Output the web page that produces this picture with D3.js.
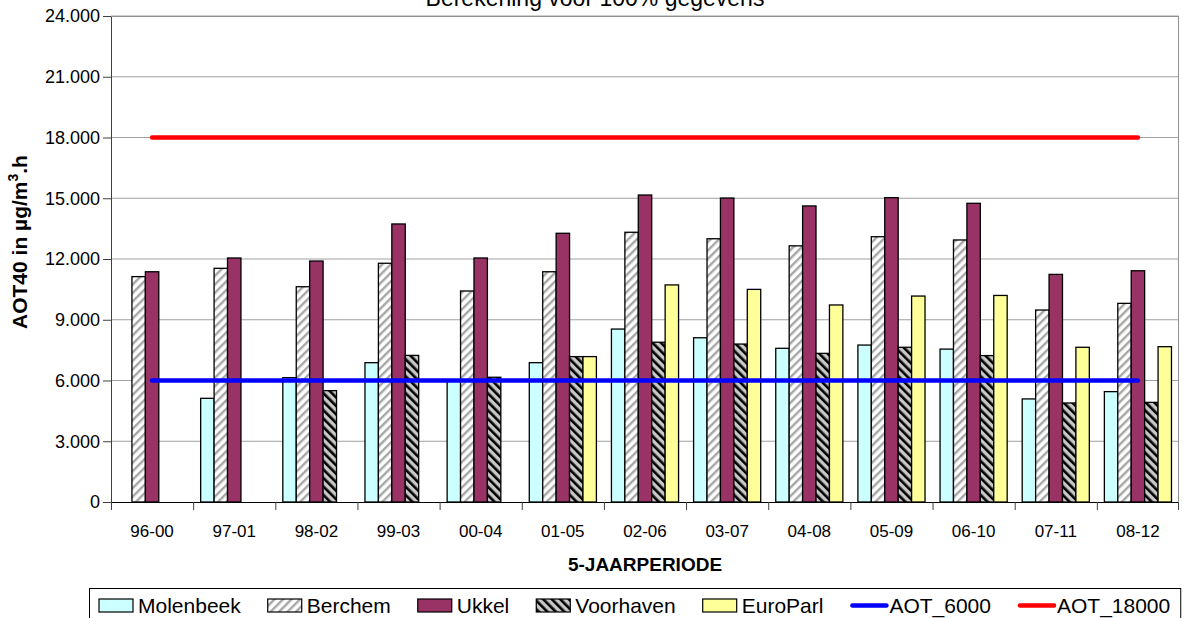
<!DOCTYPE html>
<html>
<head>
<meta charset="utf-8">
<script src="https://cdn.jsdelivr.net/npm/d3@7"></script>
<style>
  body { margin: 0; background: #fff; }
  svg { display: block; font-family: "Liberation Sans", Arial, sans-serif; }
</style>
</head>
<body>
<svg id="chart" width="1184" height="618"></svg>
<script>
// periods on the x axis
var periods = ["96-00", "97-01", "98-02", "99-03", "00-04", "01-05", "02-06", "03-07", "04-08", "05-09", "06-10", "07-11", "08-12"];

// AOT40 per station (null = no data)
var molenbeek = [null, 5120, 6140, 6880, 6000, 6880, 8540, 8110, 7590, 7750, 7550, 5090, 5450];
var berchem   = [11130, 11540, 10630, 11790, 10420, 11370, 13320, 13000, 12650, 13100, 12940, 9480, 9810];
var ukkel     = [11370, 12050, 11900, 13730, 12050, 13270, 15160, 15010, 14620, 15030, 14750, 11240, 11420];
var voorhaven = [null, null, 5500, 7240, 6160, 7180, 7890, 7800, 7340, 7640, 7230, 4890, 4920];
var europarl  = [null, null, null, null, null, 7180, 10720, 10500, 9730, 10170, 10200, 7640, 7670];

// target values
var aot6000  = [6000, 6000, 6000, 6000, 6000, 6000, 6000, 6000, 6000, 6000, 6000, 6000, 6000];
var aot18000 = [18000, 18000, 18000, 18000, 18000, 18000, 18000, 18000, 18000, 18000, 18000, 18000, 18000];

var yTicks = [0, 3000, 6000, 9000, 12000, 15000, 18000, 21000, 24000];

var barSeries = [
    {name: "Molenbeek", values: molenbeek, fill: "#ccffff"},
    {name: "Berchem",   values: berchem,   fill: "url(#hatchBerchem)"},
    {name: "Ukkel",     values: ukkel,     fill: "#993366"},
    {name: "Voorhaven", values: voorhaven, fill: "url(#hatchVoorhaven)"},
    {name: "EuroParl",  values: europarl,  fill: "#ffff99"}
];
var lineSeries = [
    {name: "AOT_6000",  values: aot6000,  color: "#0000ff"},
    {name: "AOT_18000", values: aot18000, color: "#ff0000"}
];

var margin = {top: 16, right: 5, bottom: 116, left: 111},
    width = 1184 - margin.left - margin.right,
    height = 618 - margin.top - margin.bottom;

var svg = d3.select("#chart");

// hatch patterns
var defs = svg.append("defs");
var pb = defs.append("pattern")
    .attr("id", "hatchBerchem")
    .attr("patternUnits", "userSpaceOnUse")
    .attr("width", 6).attr("height", 6)
    .attr("patternTransform", "rotate(45)");
pb.append("rect").attr("width", 6).attr("height", 6).attr("fill", "#fff");
pb.append("rect").attr("width", 2.4).attr("height", 6).attr("fill", "#a6a6a6");

var pv = defs.append("pattern")
    .attr("id", "hatchVoorhaven")
    .attr("patternUnits", "userSpaceOnUse")
    .attr("width", 6).attr("height", 6)
    .attr("patternTransform", "rotate(-45)");
pv.append("rect").attr("width", 6).attr("height", 6).attr("fill", "#c8c8c8");
pv.append("rect").attr("width", 2.6).attr("height", 6).attr("fill", "#000");

var g = svg.append("g")
    .attr("transform", "translate(" + margin.left + "," + margin.top + ")");

var x0 = d3.scaleBand().domain(periods).range([0, width]).padding(0);
var x1 = d3.scaleBand()
    .domain(barSeries.map(function(d) { return d.name; }))
    .range([0, x0.bandwidth()])
    .paddingInner(0)
    .paddingOuter(0.56);
var y = d3.scaleLinear().domain([0, 24000]).range([height, 0]);

// grid
g.selectAll(".grid")
    .data(yTicks.filter(function(d) { return d > 0; }))
    .enter().append("line")
    .attr("x1", 0).attr("x2", width)
    .attr("y1", function(d) { return y(d); })
    .attr("y2", function(d) { return y(d); })
    .attr("stroke", "#a0a0a0")
    .attr("stroke-width", 1);

// right border
g.append("line")
    .attr("x1", width - 0.5).attr("x2", width - 0.5)
    .attr("y1", 0).attr("y2", height)
    .attr("stroke", "#909090");

// bars
var groups = g.selectAll(".grp")
    .data(periods)
    .enter().append("g")
    .attr("transform", function(d) { return "translate(" + x0(d) + ",0)"; });

groups.selectAll("rect")
    .data(function(p, i) {
        return barSeries.map(function(s) { return {s: s, v: s.values[i]}; })
            .filter(function(d) { return d.v !== null; });
    })
    .enter().append("rect")
    .attr("x", function(d) { return x1(d.s.name); })
    .attr("width", x1.bandwidth())
    .attr("y", function(d) { return y(d.v); })
    .attr("height", function(d) { return height - y(d.v); })
    .attr("fill", function(d) { return d.s.fill; })
    .attr("stroke", "#000")
    .attr("stroke-width", 1.3);

// target lines
var line = d3.line()
    .x(function(d, i) { return x0(periods[i]) + x0.bandwidth() / 2; })
    .y(function(d) { return y(d); });

lineSeries.forEach(function(s) {
    g.append("path")
        .datum(s.values)
        .attr("d", line)
        .attr("fill", "none")
        .attr("stroke", s.color)
        .attr("stroke-width", 4.5)
        .attr("stroke-linecap", "round");
});

// axes
var yAxis = d3.axisLeft(y)
    .tickValues(yTicks)
    .tickSize(8)
    .tickPadding(3)
    .tickFormat(function(d) { return d === 0 ? "0" : d3.format(",")(d).replace(/,/g, "."); });
var ya = g.append("g").call(yAxis);
ya.select(".domain").attr("stroke", "#404040").attr("d", "M0.5,0V" + height);
ya.selectAll(".tick line").attr("stroke", "#404040");
ya.selectAll("text").attr("font-size", 18).attr("fill", "#000").attr("font-family", "Liberation Sans, Arial");

var xa = g.append("g").attr("transform", "translate(0," + height + ")");
xa.append("line").attr("x1", 0).attr("x2", width).attr("y1", 0.5).attr("y2", 0.5).attr("stroke", "#000");
xa.selectAll(".xt")
    .data(periods.concat(["_end"]))
    .enter().append("line")
    .attr("x1", function(d, i) { return i < periods.length ? x0(d) + 0.5 : width - 0.5; })
    .attr("x2", function(d, i) { return i < periods.length ? x0(d) + 0.5 : width - 0.5; })
    .attr("y1", 0).attr("y2", 8)
    .attr("stroke", "#404040");
xa.selectAll(".xl")
    .data(periods)
    .enter().append("text")
    .attr("x", function(d) { return x0(d) + x0.bandwidth() / 2; })
    .attr("y", 35)
    .attr("text-anchor", "middle")
    .attr("font-size", 17)
    .text(function(d) { return d; });

// top border
g.append("line")
    .attr("x1", 0).attr("x2", width)
    .attr("y1", 0.5).attr("y2", 0.5)
    .attr("stroke", "#909090");

// titles
svg.append("text")
    .attr("x", 595).attr("y", 6)
    .attr("text-anchor", "middle")
    .attr("font-size", 23)
    .text("Berekening voor 100% gegevens");

svg.append("text")
    .attr("x", margin.left + width / 2).attr("y", 571)
    .attr("text-anchor", "middle")
    .attr("font-size", 19)
    .attr("font-weight", "bold")
    .text("5-JAARPERIODE");

var yt = svg.append("text")
    .attr("transform", "translate(27,242) rotate(-90)")
    .attr("text-anchor", "middle")
    .attr("font-size", 21)
    .attr("font-weight", "bold");
yt.append("tspan").text("AOT40 in µg/m");
yt.append("tspan").attr("dy", -9).attr("font-size", 14).text("3");
yt.append("tspan").attr("dy", 9).text(".h");

// legend
var lg = svg.append("g").attr("transform", "translate(89,588)");
var lgBox = lg.append("rect")
    .attr("x", 0.5).attr("y", 0.5)
    .attr("height", 40)
    .attr("fill", "#fff")
    .attr("stroke", "#000");

var cx = 10;
var items = barSeries.map(function(s) { return {name: s.name, fill: s.fill, type: "bar"}; })
    .concat(lineSeries.map(function(s) { return {name: s.name, color: s.color, type: "line"}; }));
items.forEach(function(it) {
    if (it.type === "bar") {
        lg.append("rect")
            .attr("x", cx).attr("y", 11)
            .attr("width", 34).attr("height", 13)
            .attr("fill", it.fill)
            .attr("stroke", "#000").attr("stroke-width", 1.2);
    } else {
        lg.append("line")
            .attr("x1", cx + 2).attr("x2", cx + 36)
            .attr("y1", 17.5).attr("y2", 17.5)
            .attr("stroke", it.color).attr("stroke-width", 4.5)
            .attr("stroke-linecap", "round");
    }
    var t = lg.append("text")
        .attr("x", cx + 39).attr("y", 25)
        .attr("font-size", 21)
        .text(it.name);
    cx += 39 + t.node().getComputedTextLength() + 27;
});
lgBox.attr("width", cx - 27 + 10);
</script>
</body>
</html>
